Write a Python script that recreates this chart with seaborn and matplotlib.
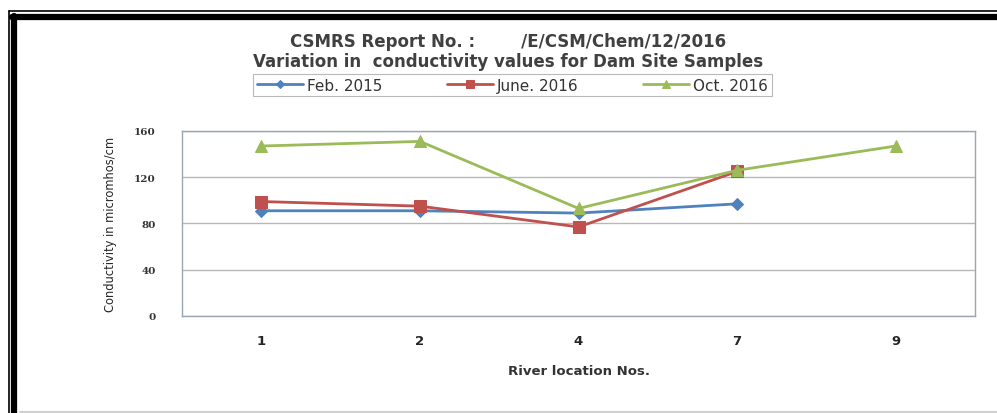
import pandas as pd
import numpy as np
import matplotlib.pyplot as plt
import seaborn as sns
from matplotlib.lines import Line2D

locations = ["1", "2", "4", "7", "9"]
feb_2015 = [91, 91, 89, 97, np.nan]
june_2016 = [99, 95, 77, 125, np.nan]
oct_2016 = [147, 151, 93, 126, 147]
series_names = ["Feb. 2015", "June. 2016", "Oct. 2016"]

df = pd.DataFrame({"Location": locations * 3,
                   "Value": feb_2015 + june_2016 + oct_2016,
                   "Series": [s for s in series_names for _ in locations]})
df = df.dropna()

sns.set_style("white")
plt.rcParams['font.family'] = ['DejaVu Sans']

fig = plt.figure(figsize=(9.97, 4.14), dpi=100)
ax = fig.add_axes([0.1826, 0.2343, 0.7954, 0.4469])

palette = {"Feb. 2015": "#4F81BD", "June. 2016": "#C0504D", "Oct. 2016": "#9BBB59"}
markers = {"Feb. 2015": "D", "June. 2016": "s", "Oct. 2016": "^"}
sizes = {"Feb. 2015": 6, "June. 2016": 8, "Oct. 2016": 8}

for name in series_names:
    sub = df[df["Series"] == name]
    sns.lineplot(data=sub, x="Location", y="Value", ax=ax, color=palette[name],
                 marker=markers[name], markersize=sizes[name], markeredgecolor=palette[name],
                 linewidth=2, label=name, sort=False)

ax.set_xlim(-0.5, 4.5)
ax.set_ylim(0, 160)
ax.set_yticks([0, 40, 80, 120, 160])
ax.yaxis.grid(True, color="#b8b8b8", linewidth=1)
ax.set_xticks(range(len(locations)))
ax.set_xticklabels(locations, fontweight="bold", fontsize=9.5)
ax.set_xticks(np.arange(-0.5, 5, 1), minor=True)
ax.tick_params(axis="x", which="major", length=0, pad=13)
ax.tick_params(axis="x", which="minor", length=4, color="#9aa6b8", direction="out")
ax.tick_params(axis="y", length=5, color="#9aa6b8", direction="out", pad=14)
for lbl in ax.get_yticklabels():
    lbl.set_fontfamily("DejaVu Serif")
    lbl.set_fontsize(7.5)
    lbl.set_fontweight("bold")
    lbl.set_color("#333333")
for sp in ax.spines.values():
    sp.set_color("#9aa6b8")
    sp.set_linewidth(1)

ax.set_xlabel("River location Nos.", fontweight="bold", fontsize=9.5, labelpad=12, color="#333333")
ax.set_ylabel("Conductivity in micromhos/cm", fontsize=8.3, labelpad=12)

ax.legend(loc="center", bbox_to_anchor=(0.514, 0.792), bbox_transform=fig.transFigure,
          ncol=3, frameon=True, fancybox=False, edgecolor="#a8a8a8", fontsize=11,
          handlelength=3.0, columnspacing=4.2, borderpad=0.25, handletextpad=0.3,
          markerscale=0.7, labelcolor="#333333")
ax.get_legend().get_frame().set_linewidth(0.8)

fig.text(0.510, 0.899, "CSMRS Report No. :        /E/CSM/Chem/12/2016",
         ha="center", va="center", fontsize=12, fontweight="bold", color="#404040")
fig.text(0.510, 0.850, "Variation in  conductivity values for Dam Site Samples",
         ha="center", va="center", fontsize=12, fontweight="bold", color="#404040")

# page frame
fig.add_artist(Line2D([0.0090, 0.0090], [0.0, 0.971], transform=fig.transFigure, color="black", linewidth=1.2))
fig.add_artist(Line2D([0.0090, 1.0], [0.971, 0.971], transform=fig.transFigure, color="black", linewidth=1.2))
fig.add_artist(Line2D([0.0145, 0.0145], [0.0, 0.959], transform=fig.transFigure, color="black", linewidth=4.5))
fig.add_artist(Line2D([0.0125, 1.0], [0.957, 0.957], transform=fig.transFigure, color="black", linewidth=4.5))
fig.add_artist(Line2D([0.02, 1.0], [0.002, 0.002], transform=fig.transFigure, color="#d0d0d0", linewidth=1.5))

fig.savefig("out.png", dpi=100)
